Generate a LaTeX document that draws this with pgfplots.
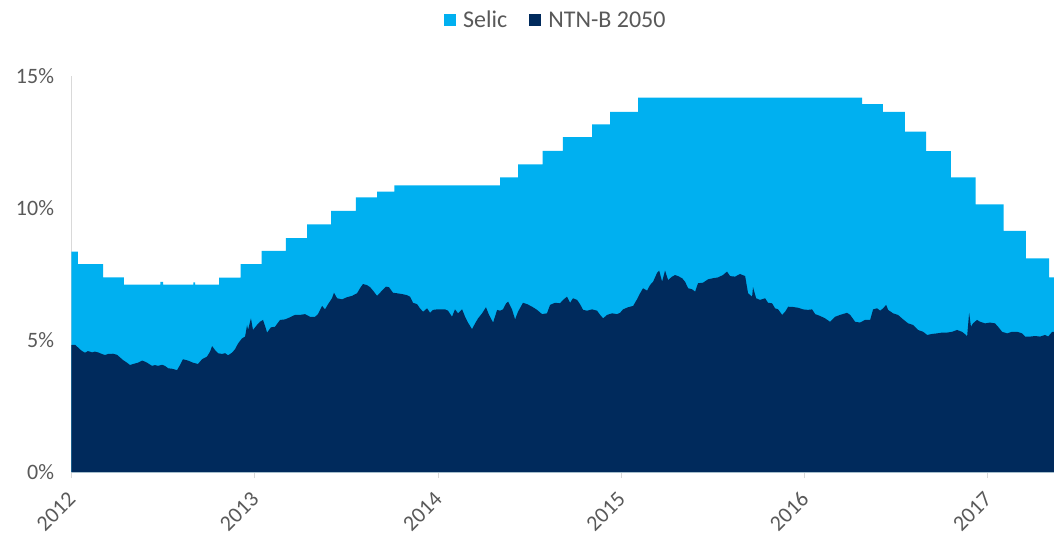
\documentclass[border=0pt]{standalone}
\usepackage{fontspec}
\setmainfont{Carlito}
\usepackage{pgfplots}
\pgfplotsset{compat=1.18}
\definecolor{selic}{HTML}{00B0F0}
\definecolor{ntnb}{HTML}{002A5C}
\definecolor{axgray}{HTML}{D9D9D9}
\definecolor{txtgray}{HTML}{595959}
\begin{document}
\begin{tikzpicture}
\begin{axis}[
    scale only axis,
    width=982.5pt, height=396pt,
    xmin=2012, xmax=2017.36,
    ymin=0, ymax=15,
    axis x line=bottom, axis y line=left,
    axis line style={-, draw=axgray, line width=1.5pt},
    xtick={2012,...,2017},
    xticklabels={2012,2013,2014,2015,2016,2017},
    ytick={0,5,10,15},
    yticklabel={\pgfmathprintnumber{\tick}\%},
    /pgf/number format/assume math mode=true,
    ticklabel style={font=\fontsize{22}{26}\selectfont, text=txtgray},
    x tick label style={rotate=45, anchor=east, inner sep=1pt,
        xshift=-11pt, yshift=-12.5pt},
    y tick label style={xshift=-8pt},
    tick align=outside,
    major tick length=6pt,
    xtick style={draw=axgray, line width=1pt},
    ytick style={draw=none},
    legend style={at={(0.493,1)}, anchor=center, yshift=56pt, draw=none,
        font=\fontsize{24}{28}\selectfont, text=txtgray,
        /tikz/every odd column/.append style={column sep=5pt},
        /tikz/every even column/.append style={column sep=20pt}},
    legend columns=2,
    legend image code/.code={\path[#1] (0pt,-6pt) rectangle (12pt,6pt);},
]
% Selic (step function)
\addplot[const plot, fill=selic, draw=none] coordinates {
    (2012.000, 8.35) (2012.035, 7.87) (2012.172, 7.37) (2012.286, 7.10)
    (2012.485, 7.20) (2012.500, 7.10) (2012.665, 7.18) (2012.675, 7.10)
    (2012.805, 7.36) (2012.922, 7.87) (2013.037, 8.38) (2013.170, 8.86)
    (2013.285, 9.38) (2013.416, 9.89) (2013.552, 10.40) (2013.667, 10.62)
    (2013.762, 10.86) (2014.338, 11.16) (2014.436, 11.65) (2014.570, 12.16)
    (2014.681, 12.68) (2014.840, 13.17) (2014.938, 13.64) (2015.091, 14.18)
    (2016.313, 13.93) (2016.427, 13.64) (2016.547, 12.89) (2016.662, 12.15)
    (2016.798, 11.16) (2016.932, 10.14) (2017.085, 9.13) (2017.207, 8.09)
    (2017.333, 7.37) (2017.360, 7.37)
} \closedcycle;
\addlegendentry{Selic}
% NTN-B 2050
\addplot[fill=ntnb, draw=none] coordinates {
    (2012.000, 4.81) (2012.019, 4.82) (2012.035, 4.72) (2012.057, 4.58)
    (2012.074, 4.52) (2012.090, 4.58) (2012.112, 4.53) (2012.128, 4.56)
    (2012.145, 4.53) (2012.166, 4.47) (2012.183, 4.43) (2012.199, 4.47)
    (2012.226, 4.48) (2012.248, 4.44) (2012.265, 4.34) (2012.281, 4.24)
    (2012.303, 4.14) (2012.319, 4.05) (2012.336, 4.09) (2012.363, 4.14)
    (2012.385, 4.22) (2012.401, 4.18) (2012.417, 4.12) (2012.439, 4.02)
    (2012.456, 4.05) (2012.472, 4.02) (2012.494, 4.06) (2012.510, 4.02)
    (2012.527, 3.93) (2012.548, 3.91) (2012.576, 3.86) (2012.592, 4.05)
    (2012.608, 4.27) (2012.636, 4.22) (2012.663, 4.14) (2012.690, 4.09)
    (2012.712, 4.27) (2012.739, 4.37) (2012.756, 4.56) (2012.767, 4.77)
    (2012.783, 4.62) (2012.799, 4.50) (2012.821, 4.47) (2012.838, 4.50)
    (2012.854, 4.42) (2012.876, 4.52) (2012.892, 4.65) (2012.909, 4.87)
    (2012.930, 5.06) (2012.947, 5.13) (2012.958, 5.57) (2012.963, 5.38)
    (2012.979, 5.82) (2012.990, 5.38) (2013.012, 5.57) (2013.028, 5.69)
    (2013.045, 5.76) (2013.056, 5.53) (2013.067, 5.28) (2013.088, 5.48)
    (2013.110, 5.50) (2013.138, 5.76) (2013.165, 5.78) (2013.192, 5.86)
    (2013.219, 5.95) (2013.247, 5.95) (2013.274, 5.98) (2013.301, 5.88)
    (2013.329, 5.88) (2013.345, 5.98) (2013.367, 6.29) (2013.383, 6.16)
    (2013.400, 6.36) (2013.421, 6.58) (2013.432, 6.79) (2013.449, 6.58)
    (2013.476, 6.54) (2013.503, 6.62) (2013.530, 6.67) (2013.558, 6.77)
    (2013.574, 6.96) (2013.590, 7.12) (2013.612, 7.08) (2013.629, 7.00)
    (2013.645, 6.87) (2013.667, 6.67) (2013.694, 6.87) (2013.716, 7.02)
    (2013.732, 7.00) (2013.754, 6.79) (2013.776, 6.77) (2013.803, 6.74)
    (2013.830, 6.70) (2013.847, 6.64) (2013.863, 6.41) (2013.885, 6.36)
    (2013.901, 6.20) (2013.918, 6.07) (2013.940, 6.20) (2013.956, 6.03)
    (2013.972, 6.14) (2013.994, 6.16) (2014.010, 6.16) (2014.038, 6.16)
    (2014.054, 6.11) (2014.076, 5.88) (2014.092, 6.16) (2014.109, 6.01)
    (2014.131, 6.16) (2014.147, 5.88) (2014.163, 5.66) (2014.185, 5.41)
    (2014.202, 5.63) (2014.218, 5.82) (2014.240, 6.01) (2014.261, 6.24)
    (2014.278, 5.95) (2014.300, 5.66) (2014.322, 6.14) (2014.338, 6.11)
    (2014.354, 6.16) (2014.371, 6.39) (2014.382, 6.45) (2014.403, 6.16)
    (2014.420, 5.78) (2014.436, 6.07) (2014.463, 6.41) (2014.485, 6.36)
    (2014.513, 6.26) (2014.540, 6.14) (2014.567, 5.98) (2014.594, 6.01)
    (2014.611, 6.33) (2014.638, 6.41) (2014.665, 6.39) (2014.682, 6.52)
    (2014.703, 6.64) (2014.720, 6.41) (2014.736, 6.58) (2014.758, 6.52)
    (2014.774, 6.36) (2014.791, 6.14) (2014.813, 6.11) (2014.840, 6.16)
    (2014.867, 6.11) (2014.884, 5.95) (2014.900, 5.82) (2014.922, 5.95)
    (2014.949, 6.01) (2014.976, 5.98) (2014.993, 6.03) (2015.009, 6.16)
    (2015.036, 6.24) (2015.064, 6.29) (2015.085, 6.54) (2015.102, 6.77)
    (2015.118, 6.96) (2015.140, 6.87) (2015.156, 7.08) (2015.173, 7.21)
    (2015.195, 7.55) (2015.206, 7.63) (2015.222, 7.21) (2015.238, 7.63)
    (2015.255, 7.27) (2015.276, 7.40) (2015.293, 7.46) (2015.309, 7.42)
    (2015.331, 7.34) (2015.347, 7.21) (2015.364, 6.96) (2015.386, 6.92)
    (2015.402, 6.83) (2015.418, 7.15) (2015.445, 7.17) (2015.473, 7.30)
    (2015.500, 7.34) (2015.527, 7.37) (2015.554, 7.46) (2015.576, 7.59)
    (2015.593, 7.42) (2015.620, 7.40) (2015.647, 7.50) (2015.675, 7.42)
    (2015.691, 6.77) (2015.713, 6.64) (2015.718, 7.00) (2015.735, 6.58)
    (2015.756, 6.52) (2015.784, 6.58) (2015.800, 6.41) (2015.822, 6.39)
    (2015.838, 6.20) (2015.855, 6.16) (2015.877, 5.95) (2015.893, 6.07)
    (2015.910, 6.26) (2015.937, 6.25) (2015.964, 6.22) (2015.991, 6.16)
    (2016.018, 6.14) (2016.040, 6.16) (2016.057, 5.98) (2016.084, 5.91)
    (2016.111, 5.82) (2016.138, 5.69) (2016.166, 5.88) (2016.193, 5.95)
    (2016.231, 6.03) (2016.248, 5.95) (2016.275, 5.69) (2016.302, 5.66)
    (2016.329, 5.76) (2016.357, 5.76) (2016.373, 6.16) (2016.395, 6.20)
    (2016.411, 6.11) (2016.428, 6.20) (2016.444, 6.33) (2016.455, 6.14)
    (2016.482, 6.01) (2016.509, 5.95) (2016.537, 5.78) (2016.564, 5.63)
    (2016.591, 5.57) (2016.618, 5.38) (2016.646, 5.31) (2016.668, 5.19)
    (2016.695, 5.23) (2016.722, 5.25) (2016.749, 5.28) (2016.776, 5.28)
    (2016.804, 5.31) (2016.831, 5.38) (2016.858, 5.31) (2016.880, 5.19)
    (2016.886, 5.13) (2016.897, 6.03) (2016.907, 5.50) (2016.918, 5.63)
    (2016.940, 5.76) (2016.957, 5.69) (2016.984, 5.63) (2017.011, 5.66)
    (2017.038, 5.63) (2017.055, 5.50) (2017.077, 5.31) (2017.104, 5.25)
    (2017.131, 5.31) (2017.159, 5.31) (2017.186, 5.25) (2017.202, 5.13)
    (2017.230, 5.13) (2017.257, 5.15) (2017.284, 5.13) (2017.311, 5.19)
    (2017.328, 5.13) (2017.350, 5.31) (2017.360, 5.31)
} \closedcycle;
\addlegendentry{NTN-B 2050}
\end{axis}
\pgfresetboundingbox
\path (-71.5pt,-66pt) rectangle (982.5pt,472pt);
\end{tikzpicture}
\end{document}
